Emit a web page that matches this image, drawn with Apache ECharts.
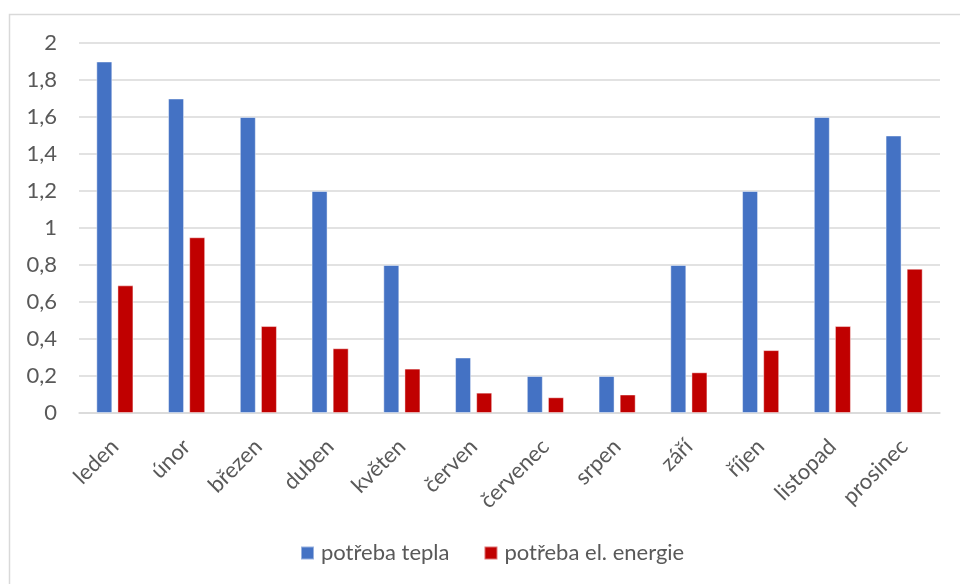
<!DOCTYPE html>
<html>
<head>
<meta charset="utf-8">
<script src="https://cdn.jsdelivr.net/npm/echarts@6/dist/echarts.min.js"></script>
<style>
  html, body { margin: 0; padding: 0; background: #fff; }
  #chart { width: 960px; height: 584px; }
</style>
</head>
<body>
<div id="chart"></div>
<script>
// Monthly categories
const months = ['leden', 'únor', 'březen', 'duben', 'květen', 'červen',
  'červenec', 'srpen', 'září', 'říjen', 'listopad', 'prosinec'];

// Series names
const heatName = 'potřeba tepla';
const powerName = 'potřeba el. energie';

// Series values
const heatValues = [1.9, 1.7, 1.6, 1.2, 0.8, 0.3, 0.2, 0.2, 0.8, 1.2, 1.6, 1.5];
const powerValues = [0.69, 0.95, 0.47, 0.35, 0.24, 0.11, 0.085, 0.10, 0.22, 0.34, 0.47, 0.78];

// Value axis ticks
const yMin = 0, yMax = 2, yStep = 0.2;

const FONT = 'Lato, "Noto Sans", sans-serif';
const TEXT = '#595959';
const GRID = '#d9d9d9';

const chart = echarts.init(document.getElementById('chart'), null, { renderer: 'canvas' });

chart.setOption({
  animation: false,
  backgroundColor: '#ffffff',
  textStyle: { fontFamily: FONT },
  graphic: [{
    type: 'rect',
    shape: { x: 9.5, y: 14.5, width: 980, height: 620 },
    style: { fill: 'none', stroke: '#d9d9d9', lineWidth: 1.5 },
    silent: true
  }],
  grid: { left: 79, right: 20, top: 43, bottom: 171, containLabel: false },
  legend: {
    data: [heatName, powerName],
    top: 537,
    left: 295,
    itemWidth: 13,
    itemHeight: 13,
    itemGap: 34,
    icon: 'rect',
    textStyle: { fontFamily: FONT, fontSize: 22, color: TEXT, padding: [0, 0, 0, 2] }
  },
  xAxis: {
    type: 'category',
    data: months,
    axisLine: { show: true, lineStyle: { color: GRID, width: 1.5 } },
    axisTick: { show: false },
    axisLabel: {
      rotate: 45,
      interval: 0,
      margin: 30,
      fontFamily: FONT,
      fontSize: 22,
      color: TEXT
    }
  },
  yAxis: {
    type: 'value',
    min: yMin,
    max: yMax,
    interval: yStep,
    axisLine: { show: false },
    axisTick: { show: false },
    splitLine: { lineStyle: { color: GRID, width: 1.5 } },
    axisLabel: {
      margin: 22,
      fontFamily: FONT,
      fontSize: 22,
      color: TEXT,
      formatter: v => String(Math.round(v * 10) / 10).replace('.', ',')
    }
  },
  series: [
    {
      name: heatName,
      type: 'bar',
      data: heatValues,
      barWidth: 16,
      barGap: '32%',
      itemStyle: { color: '#4472C4', borderColor: 'rgba(255,255,255,0.45)', borderWidth: 1 }
    },
    {
      name: powerName,
      type: 'bar',
      data: powerValues,
      barWidth: 16,
      barGap: '32%',
      itemStyle: { color: '#C00000', borderColor: 'rgba(255,255,255,0.45)', borderWidth: 1 }
    }
  ]
});
</script>
</body>
</html>
